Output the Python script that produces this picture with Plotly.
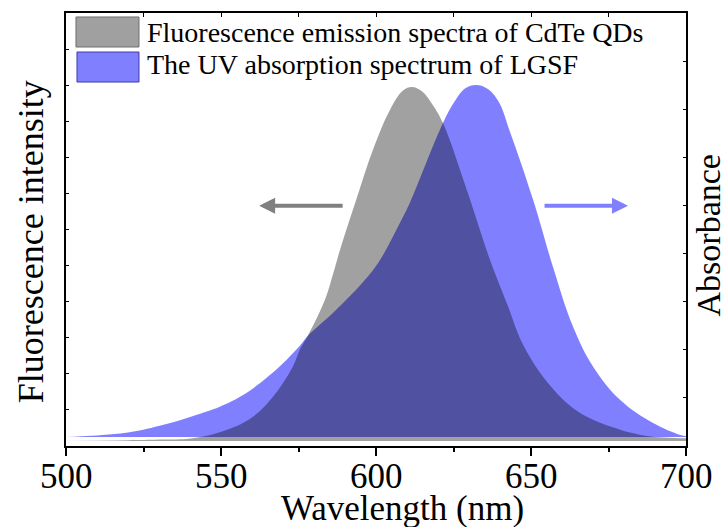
import plotly.graph_objects as go

# ---- data ----
wl_abs = [500, 505, 519.4, 530.2, 541.0, 549.6, 557.1, 564.7, 571.1, 575.4, 578.0, 587.0,
          596.1, 601.3, 607.7, 610.9, 621.6, 625.5, 628.7, 632.3, 635.8, 639.4, 643.3,
          650.7, 657.1, 663.6, 670.1, 678.8, 689.4, 698.2, 700]
absorbance = [0.0, 0.002, 0.012, 0.032, 0.060, 0.086, 0.119, 0.168, 0.219, 0.259, 0.287, 0.36,
              0.443, 0.503, 0.608, 0.665, 0.892, 0.955, 0.99, 1.0, 0.99, 0.955, 0.865,
              0.673, 0.483, 0.3125, 0.199, 0.105, 0.040, 0.006, 0.003]

wl_fl = [500, 520, 530, 540.9, 551.7, 560.2, 566.7, 573.1, 575.4, 578.0, 583.5, 586.1,
         588.4, 593.9, 599.0, 604.5, 608.7, 611.6, 614.8, 618.4, 621.6, 629.3, 636.8,
         642.3, 647.8, 656.5, 664.9, 675.9, 687.5, 700]
fluorescence = [0.0, 0.002, 0.004, 0.008, 0.031, 0.068, 0.124, 0.209, 0.257, 0.297, 0.398, 0.47,
                0.540, 0.689, 0.822, 0.935, 0.99, 1.0, 0.988, 0.948, 0.898, 0.709, 0.511,
                0.387, 0.266, 0.153, 0.085, 0.040, 0.014, 0.008]

x_ticks = [500, 550, 600, 650, 700]
x_tick_labels = ["500", "550", "600", "650", "700"]
legend_labels = ["Fluorescence emission spectra of CdTe QDs", "The UV absorption spectrum of LGSF"]
x_title = "Wavelength (nm)"
yl_title = "Fluorescence intensity"
yr_title = "Absorbance"

FONT = "Liberation Serif"
BLUE = "rgb(128,128,255)"
GRAY_FILL = "rgba(0,0,0,0.37)"

# axis ranges (baseline offsets as in the reference)
ab_min, ab_max = -0.02557, 1.2046
fl_min, fl_max = -0.01412, 1.2090

fig = go.Figure()
fig.add_trace(go.Scatter(x=wl_abs, y=absorbance, mode="lines", fill="tozeroy",
                         fillcolor=BLUE, line=dict(width=0, color=BLUE, shape="spline", smoothing=1.1),
                         xaxis="x", yaxis="y", showlegend=False, hoverinfo="skip"))
fig.add_trace(go.Scatter(x=wl_fl, y=fluorescence, mode="lines", fill="tozeroy",
                         fillcolor=GRAY_FILL, line=dict(width=0, color=GRAY_FILL, shape="spline", smoothing=1.1),
                         xaxis="x", yaxis="y2", showlegend=False, hoverinfo="skip"))
fig.add_trace(go.Scatter(x=[], y=[], xaxis="x2", yaxis="y", showlegend=False, hoverinfo="skip"))

fig.update_layout(
    width=728, height=527,
    margin=dict(l=66, r=42, t=13, b=81),
    paper_bgcolor="white", plot_bgcolor="white",
    font=dict(family=FONT, color="black"),
    xaxis=dict(range=[500, 700], tickvals=x_ticks, ticks="outside", ticklen=8, tickwidth=1.5,
               tickcolor="black", showticklabels=False,
               showline=True, linewidth=2, linecolor="black", mirror=True,
               showgrid=False, zeroline=False,
               minor=dict(ticks="outside", ticklen=4, tickwidth=1.5, dtick=25, tick0=500,
                          tickcolor="black", showgrid=False)),
    xaxis2=dict(range=[500, 700], overlaying="x", side="top", anchor="y", ticks="inside",
                ticklen=4, tickwidth=1, tickcolor="black", dtick=25, tick0=500,
                showticklabels=False, showline=False, showgrid=False, zeroline=False),
    yaxis=dict(range=[ab_min, ab_max], tick0=ab_min, dtick=(ab_max - ab_min) / 12,
               ticks="inside", ticklen=3, tickwidth=1, tickcolor="black", showticklabels=False,
               showline=True, linewidth=2, linecolor="black", mirror=True,
               showgrid=False, zeroline=False),
    yaxis2=dict(range=[fl_min, fl_max], tick0=fl_min, dtick=(fl_max - fl_min) / 9,
                overlaying="y", side="right", anchor="x", ticks="inside", ticklen=3, tickwidth=1,
                tickcolor="black", showticklabels=False, showline=False,
                showgrid=False, zeroline=False),
)

# x tick labels placed on the x scale
for v, lab in zip(x_ticks, x_tick_labels):
    fig.add_annotation(text=lab, x=v, xref="x", y=-0.0693, yref="paper", xanchor="center",
                       yanchor="middle", showarrow=False, font=dict(size=35, family=FONT))

# legend drawn as boxes + text
fig.add_shape(type="rect", xref="paper", yref="paper", x0=0.0161, x1=0.1177, y0=0.9215, y1=0.9908,
              fillcolor="rgb(160,160,160)", line=dict(color="rgb(110,110,110)", width=1))
fig.add_shape(type="rect", xref="paper", yref="paper", x0=0.0177, x1=0.1177, y0=0.8406, y1=0.9099,
              fillcolor=BLUE, line=dict(color="rgb(60,60,170)", width=1))
fig.add_annotation(text=legend_labels[0], xref="paper", yref="paper", x=0.127, y=0.954,
                   xanchor="left", yanchor="middle", showarrow=False, font=dict(size=28, family=FONT))
fig.add_annotation(text=legend_labels[1], xref="paper", yref="paper", x=0.127, y=0.880,
                   xanchor="left", yanchor="middle", showarrow=False, font=dict(size=28, family=FONT))

# arrows
fig.add_annotation(x=562.3, y=0.555, xref="x", yref="paper", ax=85, ay=0, axref="pixel", ayref="pixel",
                   text="", showarrow=True, arrowhead=2, arrowsize=0.8, arrowwidth=4,
                   arrowcolor="rgb(128,128,128)")
fig.add_annotation(x=681.3, y=0.555, xref="x", yref="paper", ax=-85, ay=0, axref="pixel", ayref="pixel",
                   text="", showarrow=True, arrowhead=2, arrowsize=0.8, arrowwidth=4,
                   arrowcolor=BLUE)

# axis titles
fig.add_annotation(text=x_title, xref="paper", yref="paper", x=0.542, y=-0.145,
                   xanchor="center", yanchor="middle", showarrow=False, font=dict(size=35, family=FONT))
fig.add_annotation(text=yl_title, xref="paper", yref="paper", x=-0.0565, y=0.473, textangle=-90,
                   xanchor="center", yanchor="middle", showarrow=False, font=dict(size=36, family=FONT))
fig.add_annotation(text=yr_title, xref="paper", yref="paper", x=1.036, y=0.487, textangle=-90,
                   xanchor="center", yanchor="middle", showarrow=False, font=dict(size=34, family=FONT))

fig.write_html("out.html")
